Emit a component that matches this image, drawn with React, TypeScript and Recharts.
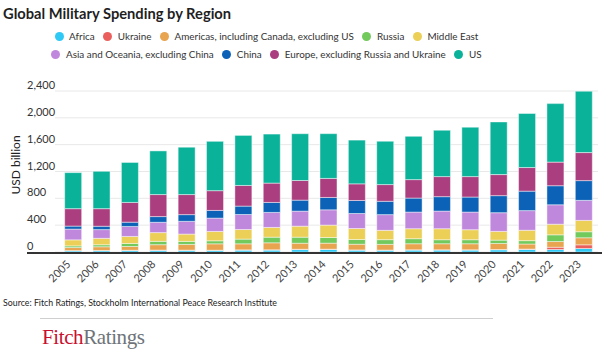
import { BarChart, Bar, XAxis, YAxis, CartesianGrid } from 'recharts'

const years = [
  '2005', '2006', '2007', '2008', '2009', '2010', '2011', '2012', '2013', '2014',
  '2015', '2016', '2017', '2018', '2019', '2020', '2021', '2022', '2023',
]

// USD billion (bottom to top)
const africa = [18, 20, 22, 24, 24, 24, 28, 29, 36, 38, 28, 26, 29, 29, 29, 33, 38, 37, 52]
const ukraine = [3, 3, 4, 5, 4, 3, 4, 4, 5, 4, 3, 3, 4, 4, 4, 4, 6, 34, 55]
const americas = [45, 55, 56, 80, 85, 95, 90, 104, 90, 90, 85, 85, 90, 90, 90, 90, 75, 85, 105]
const russia = [25, 30, 45, 50, 45, 45, 70, 84, 90, 84, 70, 70, 75, 60, 60, 50, 50, 100, 90]
const middleEast = [90, 96, 105, 130, 109, 139, 143, 145, 164, 185, 164, 139, 149, 164, 149, 130, 155, 158, 169]
const asia = [160, 130, 149, 154, 190, 199, 224, 224, 224, 228, 224, 234, 248, 263, 263, 279, 293, 290, 299]
const china = [45, 50, 64, 85, 100, 115, 125, 149, 164, 184, 194, 199, 209, 215, 224, 254, 290, 284, 294]
const europe = [260, 262, 294, 328, 299, 294, 308, 288, 293, 284, 248, 249, 275, 299, 305, 314, 352, 352, 418]
const us = [537, 557, 597, 651, 706, 736, 746, 731, 697, 667, 652, 646, 646, 691, 736, 785, 806, 872, 915]

const yTicks = [0, 400, 800, 1200, 1600, 2000, 2400]

const series = [
  { key: 'Africa', values: africa, color: '#2ec9f5' },
  { key: 'Ukraine', values: ukraine, color: '#ea5f5b' },
  { key: 'Americas, including Canada, excluding US', values: americas, color: '#e8a44f' },
  { key: 'Russia', values: russia, color: '#72c95c' },
  { key: 'Middle East', values: middleEast, color: '#ebcf57' },
  { key: 'Asia and Oceania, excluding China', values: asia, color: '#bf88dc' },
  { key: 'China', values: china, color: '#0b62b7' },
  { key: 'Europe, excluding Russia and Ukraine', values: europe, color: '#aa3e7f' },
  { key: 'US', values: us, color: '#0bb29a' },
]

const legendRows = [series.slice(0, 5), series.slice(5)]

const chartData = years.map((year, i) => {
  const row: Record<string, string | number> = { year }
  series.forEach((s) => {
    row[s.key] = s.values[i]
  })
  return row
})

const FONT = 'Lato, "Open Sans", sans-serif'

function YTick(props: any) {
  const { y, payload } = props
  return (
    <text x={27} y={y - 2} textAnchor="start" fontSize={11} fill="#333" fontFamily={FONT}>
      {Number(payload.value).toLocaleString('en-US')}
    </text>
  )
}

function XTick(props: any) {
  const { x, y, payload } = props
  const tx = x - 2
  const ty = y + 5
  return (
    <text
      x={tx}
      y={ty}
      textAnchor="end"
      fontSize={11}
      fill="#444"
      fontFamily={FONT}
      transform={`rotate(-45, ${tx}, ${ty})`}
    >
      {payload.value}
    </text>
  )
}

export default function App() {
  return (
    <div
      style={{
        position: 'absolute',
        left: 0,
        top: 0,
        width: 602,
        height: 355,
        background: '#fff',
        fontFamily: FONT,
        overflow: 'hidden',
      }}
    >
      <div
        style={{
          position: 'absolute',
          left: 3,
          top: 3,
          fontSize: 14.7,
          lineHeight: '20px',
          fontWeight: 700,
          color: '#1f1f1f',
          whiteSpace: 'nowrap',
        }}
      >
        Global Military Spending by Region
      </div>

      {legendRows.map((row, r) => (
        <div
          key={r}
          style={{
            position: 'absolute',
            left: 0,
            width: 533,
            top: 27 + r * 18,
            height: 18,
            display: 'flex',
            justifyContent: 'center',
            alignItems: 'center',
            fontSize: 9.9,
            color: '#333',
            whiteSpace: 'nowrap',
          }}
        >
          {row.map((s) => (
            <div key={s.key} style={{ display: 'flex', alignItems: 'center', margin: '0 4.3px' }}>
              <span
                style={{
                  width: 9,
                  height: 9,
                  borderRadius: '50%',
                  background: s.color,
                  marginRight: 5.5,
                  display: 'inline-block',
                }}
              />
              <span>{s.key}</span>
            </div>
          ))}
        </div>
      ))}

      <div
        style={{
          position: 'absolute',
          left: -24,
          top: 157,
          width: 80,
          height: 16,
          lineHeight: '16px',
          textAlign: 'center',
          fontSize: 12,
          color: '#222',
          transform: 'rotate(-90deg)',
        }}
      >
        USD billion
      </div>

      <div style={{ position: 'absolute', left: 0, top: 0 }}>
        <BarChart
          width={602}
          height={355}
          data={chartData}
          margin={{ top: 91, right: 4, left: 54, bottom: 63 }}
          barCategoryGap="20%"
        >
          <CartesianGrid vertical={false} stroke="#e8e8e8" />
          <XAxis
            dataKey="year"
            axisLine={false}
            tickLine={false}
            interval={0}
            height={40}
            padding={{ left: 4, right: 0 }}
            tick={<XTick />}
          />
          <YAxis
            width={1}
            domain={[0, 2400]}
            ticks={yTicks}
            axisLine={false}
            tickLine={false}
            tick={<YTick />}
          />
          {series.map((s) => (
            <Bar
              key={s.key}
              dataKey={s.key}
              stackId="spend"
              fill={s.color}
              stroke="rgba(255,255,255,0.45)"
              strokeWidth={1}
              isAnimationActive={false}
            />
          ))}
        </BarChart>
      </div>

      <div
        style={{
          position: 'absolute',
          left: 27,
          top: 252,
          width: 575,
          height: 2,
          background: '#333',
        }}
      />

      <div
        style={{
          position: 'absolute',
          left: 3,
          top: 297,
          fontSize: 8.8,
          lineHeight: '12px',
          color: '#222',
          whiteSpace: 'nowrap',
        }}
      >
        Source: Fitch Ratings, Stockholm International Peace Research Institute
      </div>

      <div
        style={{
          position: 'absolute',
          left: 40,
          top: 318,
          width: 453,
          height: 1,
          background: '#cfcfcf',
        }}
      />

      <div
        style={{
          position: 'absolute',
          left: 42,
          top: 325,
          fontSize: 21,
          lineHeight: '24px',
          letterSpacing: -0.4,
          fontFamily: '"Liberation Serif", "DejaVu Serif", serif',
          whiteSpace: 'nowrap',
        }}
      >
        <span style={{ color: '#c8102e' }}>Fitch</span>
        <span style={{ color: '#6e7479' }}>Ratings</span>
      </div>
    </div>
  )
}
